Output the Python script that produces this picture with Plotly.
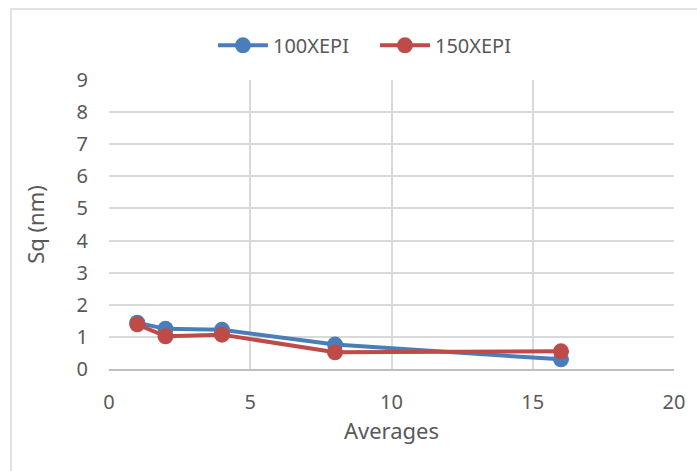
import plotly.graph_objects as go

# Sq roughness versus number of averages
averages = [1, 2, 4, 8, 16]
sq_100xepi = [1.44, 1.25, 1.22, 0.76, 0.30]
sq_150xepi = [1.39, 1.02, 1.07, 0.52, 0.55]

x_ticks = [0, 5, 10, 15, 20]
y_ticks = [0, 1, 2, 3, 4, 5, 6, 7, 8, 9]

FONT = "'Noto Sans', 'Open Sans', sans-serif"
TEXT = "#595959"
GRID = "#D9D9D9"

fig = go.Figure()
fig.add_trace(go.Scatter(
    x=averages, y=sq_100xepi, name="100XEPI", mode="lines+markers",
    line=dict(color="#4A7EBB", width=4),
    marker=dict(color="#4A7EBB", size=16),
))
fig.add_trace(go.Scatter(
    x=averages, y=sq_150xepi, name="150XEPI", mode="lines+markers",
    line=dict(color="#BE4B48", width=4),
    marker=dict(color="#BE4B48", size=16),
))

fig.update_layout(
    width=697, height=471,
    margin=dict(l=109, r=17, t=80, b=102),
    paper_bgcolor="white", plot_bgcolor="white",
    font=dict(family=FONT, color=TEXT, size=20),
    showlegend=True,
    legend=dict(orientation="h", x=0.184, xanchor="left", y=1.12, yanchor="middle",
                font=dict(size=20, color=TEXT), itemwidth=50,
                entrywidth=97, entrywidthmode="pixels"),
    xaxis=dict(
        range=[0, 20], tickvals=x_ticks, showgrid=True, gridcolor=GRID, gridwidth=1.5,
        zeroline=False, showline=True, linecolor="#BFBFBF", linewidth=2,
        ticks="", ticklabelstandoff=14, tickfont=dict(size=20),
        title=dict(text="Averages", font=dict(size=22, color=TEXT), standoff=9),
    ),
    yaxis=dict(
        range=[0, 9], tickvals=y_ticks, showgrid=True, gridcolor=GRID, gridwidth=1.5,
        zeroline=False, showline=False, ticks="", ticklabelstandoff=20, tickfont=dict(size=20),
        title=dict(text="Sq (nm)", font=dict(size=22, color=TEXT), standoff=25),
    ),
    shapes=[dict(
        type="rect", xref="paper", yref="paper",
        x0=-0.1734, x1=1.05, y0=-0.40, y1=1.2457,
        line=dict(color=GRID, width=1.5), fillcolor="rgba(0,0,0,0)", layer="below",
    )],
)

fig.write_html("out.html")
